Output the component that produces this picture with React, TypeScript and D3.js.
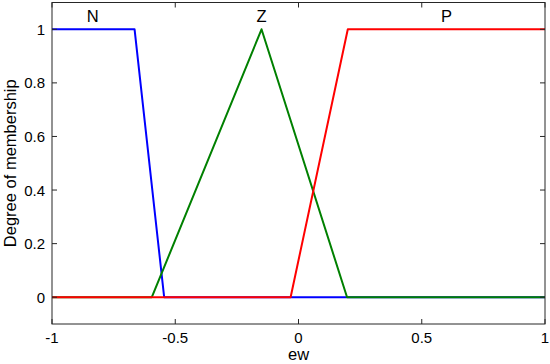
import React, { useEffect, useRef } from "react";
import * as d3 from "d3";

// membership function vertices
const nX = [-1, -0.665, -0.545, 1];
const nY = [1, 1, 0, 0];
const zX = [-1, -0.595, -0.15, 0.197, 1];
const zY = [0, 0, 1, 0, 0];
const pX = [-1, -0.032, 0.2, 1];
const pY = [0, 0, 1, 1];

const mfNames = ["N", "Z", "P"];
const mfLabelX = [-0.835, -0.15, 0.6];
const mfColors = ["#0000ff", "#008000", "#ff0000"];

const xTicks = [-1, -0.5, 0, 0.5, 1];
const yTicks = [0, 0.2, 0.4, 0.6, 0.8, 1];

const width = 550;
const height = 364;
const margin = { top: 2.5, right: 5, bottom: 40, left: 52 };

function App() {
  const ref = useRef<SVGSVGElement>(null);

  useEffect(() => {
    const svg = d3.select(ref.current);
    svg.selectAll("*").remove();

    const x = d3.scaleLinear().domain([-1, 1]).range([margin.left, width - margin.right]);
    const y = d3.scaleLinear().domain([-0.1, 1.1]).range([height - margin.bottom, margin.top]);

    const font = "Arial, 'Liberation Sans', sans-serif";

    const series = [
      { xs: nX, ys: nY },
      { xs: zX, ys: zY },
      { xs: pX, ys: pY },
    ];

    const line = d3.line<[number, number]>()
      .x(d => x(d[0]))
      .y(d => y(d[1]));

    series.forEach((s, i) => {
      const pts = s.xs.map((v, j) => [v, s.ys[j]] as [number, number]);
      svg.append("path")
        .attr("d", line(pts))
        .attr("fill", "none")
        .attr("stroke", mfColors[i])
        .attr("stroke-width", 2)
        .attr("stroke-linejoin", "round");
    });

    // frame
    const axisColor = "#262626";
    svg.append("rect")
      .attr("x", x(-1))
      .attr("y", y(1.1))
      .attr("width", x(1) - x(-1))
      .attr("height", y(-0.1) - y(1.1))
      .attr("fill", "none")
      .attr("stroke", axisColor)
      .attr("stroke-width", 1);

    const tickLen = 5;
    xTicks.forEach(t => {
      svg.append("line")
        .attr("x1", x(t)).attr("x2", x(t))
        .attr("y1", y(-0.1)).attr("y2", y(-0.1) - tickLen)
        .attr("stroke", axisColor);
      svg.append("line")
        .attr("x1", x(t)).attr("x2", x(t))
        .attr("y1", y(1.1)).attr("y2", y(1.1) + tickLen)
        .attr("stroke", axisColor);
      svg.append("text")
        .attr("x", x(t))
        .attr("y", y(-0.1) + 19)
        .attr("text-anchor", "middle")
        .attr("font-family", font)
        .attr("font-size", 15)
        .text(String(t));
    });

    yTicks.forEach(t => {
      svg.append("line")
        .attr("x1", x(-1)).attr("x2", x(-1) + tickLen)
        .attr("y1", y(t)).attr("y2", y(t))
        .attr("stroke", axisColor);
      svg.append("line")
        .attr("x1", x(1)).attr("x2", x(1) - tickLen)
        .attr("y1", y(t)).attr("y2", y(t))
        .attr("stroke", axisColor);
      svg.append("text")
        .attr("x", x(-1) - 7)
        .attr("y", y(t) + 5.5)
        .attr("text-anchor", "end")
        .attr("font-family", font)
        .attr("font-size", 15)
        .text(String(t));
    });

    mfNames.forEach((n, i) => {
      svg.append("text")
        .attr("x", x(mfLabelX[i]))
        .attr("y", y(1.028))
        .attr("text-anchor", "middle")
        .attr("font-family", font)
        .attr("font-size", 16.5)
        .text(n);
    });

    svg.append("text")
      .attr("x", (x(-1) + x(1)) / 2)
      .attr("y", height - 4)
      .attr("text-anchor", "middle")
      .attr("font-family", font)
      .attr("font-size", 16.5)
      .text("ew");

    svg.append("text")
      .attr("transform", `translate(16,${(y(-0.1) + y(1.1)) / 2}) rotate(-90)`)
      .attr("text-anchor", "middle")
      .attr("font-family", font)
      .attr("font-size", 16.5)
      .text("Degree of membership");
  }, []);

  return (
    <svg ref={ref} width={width} height={height}
      style={{ position: "absolute", left: 0, top: 0, background: "#fff" }} />
  );
}

export default App;
